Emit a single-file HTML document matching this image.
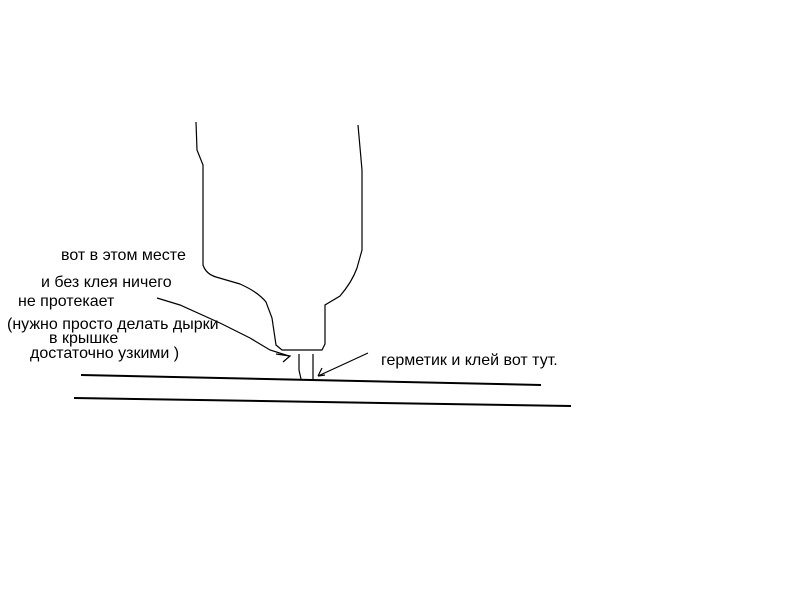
<!DOCTYPE html>
<html><head><meta charset="utf-8"><style>
body{margin:0;width:800px;height:600px;background:#fff;overflow:hidden;position:relative;font-family:"Liberation Sans",sans-serif;}
.t{position:absolute;font-size:16px;line-height:16px;color:#000;white-space:nowrap}
svg{position:absolute;left:0;top:0}
</style></head><body>
<svg width="800" height="600" fill="none" stroke="#000" stroke-width="1.2">
<path d="M196,122 L197,150 L203,165 L203,265 Q206,274 216,277 L240,284 Q258,292 266,302 L272,318 L276,345 L282,350 L322,350 L325,344 L325,305 L340,296 Q352,282 357,268 L362,250 L362,170 L358,125"/>
<path d="M299,354 L299,370 L301,379 M313,354 L313,379"/>
<path d="M157,298 L180,305 L220,323 L250,338 L270,350 L289,356"/>
<path d="M276,354 L290,356 L283,362"/>
<path d="M368,353 L342,365 L318,376 M318,376 L322,368 M318,376 L325,375"/>
<path d="M81,375 L541,385" stroke-width="2"/>
<path d="M74,398 L571,406" stroke-width="2"/>
</svg>
<div class="t" style="left:61px;top:248px">вот в этом месте</div>
<div class="t" style="left:41px;top:275px">и без клея ничего</div>
<div class="t" style="left:18px;top:294px">не протекает</div>
<div class="t" style="left:7px;top:317px">(нужно просто делать дырки</div>
<div class="t" style="left:49px;top:331px">в крышке</div>
<div class="t" style="left:30px;top:346px">достаточно узкими )</div>
<div class="t" style="left:381px;top:353px">герметик и клей вот тут.</div>
</body></html>
